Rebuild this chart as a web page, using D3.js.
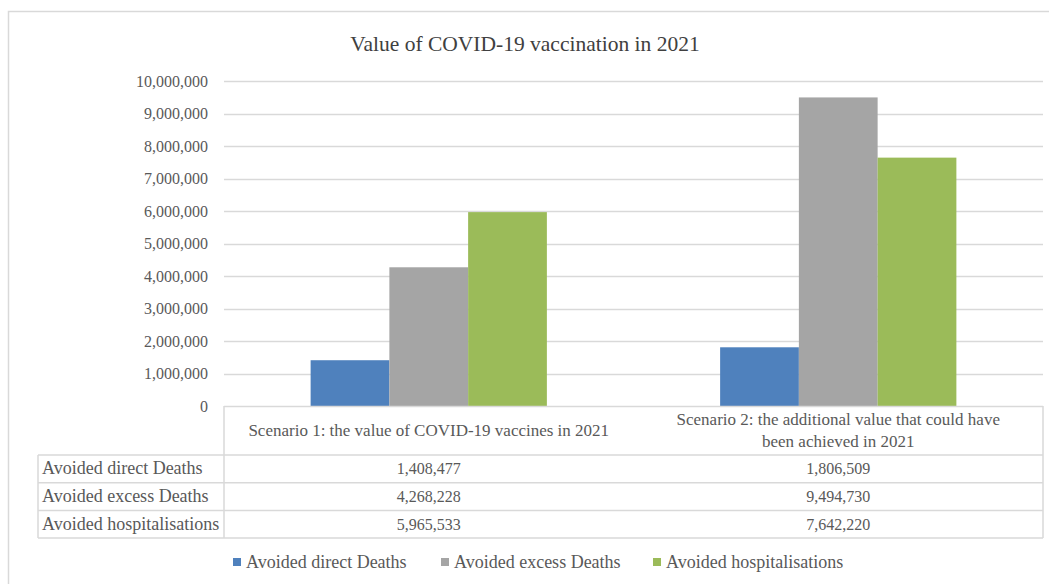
<!DOCTYPE html>
<html>
<head>
<meta charset="utf-8">
<script src="https://cdn.jsdelivr.net/npm/d3@7"></script>
<style>
  html, body { margin: 0; padding: 0; background: #fff; }
  svg { display: block; font-family: "Liberation Serif", "Times New Roman", serif; }
</style>
</head>
<body>
<svg id="chart" width="1049" height="584"></svg>
<script>
// Chart data
const scenarios = [
  "Scenario 1: the value of COVID-19 vaccines in 2021",
  "Scenario 2: the additional value that could have been achieved in 2021"
];
const scenarioLines = [
  ["Scenario 1: the value of COVID-19 vaccines in 2021"],
  ["Scenario 2: the additional value that could have", "been achieved in 2021"]
];
const seriesNames = ["Avoided direct Deaths", "Avoided excess Deaths", "Avoided hospitalisations"];
const avoidedDirectDeaths = [1408477, 1806509];
const avoidedExcessDeaths = [4268228, 9494730];
const avoidedHospitalisations = [5965533, 7642220];
const yTicks = [0, 1000000, 2000000, 3000000, 4000000, 5000000, 6000000, 7000000, 8000000, 9000000, 10000000];
const chartTitle = "Value of COVID-19 vaccination in 2021";

const seriesValues = [avoidedDirectDeaths, avoidedExcessDeaths, avoidedHospitalisations];
const colors = ["#4f81bd", "#a5a5a5", "#9bbb59"];

const svg = d3.select("#chart");
const textColor = "#595959";
const gridColor = "#d9d9d9";
const fmt = d3.format(",");

// Outer chart frame
svg.append("rect")
  .attr("x", 8.5).attr("y", 11.5)
  .attr("width", 1100).attr("height", 700)
  .attr("fill", "#fff").attr("stroke", "#d9d9d9").attr("stroke-width", 1.5);

// Title
svg.append("text")
  .attr("x", 525).attr("y", 51)
  .attr("text-anchor", "middle")
  .attr("font-size", 21.5)
  .attr("fill", "#404040")
  .text(chartTitle);

// Plot area bounds
const plotLeft = 224, plotRight = 1043, plotTop = 81, plotBottom = 406;

const x0 = d3.scaleBand().domain(scenarios).range([plotLeft, plotRight]).padding(0);
const x1 = d3.scaleBand().domain(seriesNames).range([0, x0.bandwidth()])
  .paddingInner(0).paddingOuter(1.1);
const y = d3.scaleLinear().domain([0, 10000000]).range([plotBottom, plotTop]);

// Gridlines
svg.append("g")
  .selectAll("line")
  .data(yTicks.filter(d => d > 0))
  .join("line")
  .attr("x1", plotLeft).attr("x2", plotRight)
  .attr("y1", d => Math.round(y(d)) + 0.5)
  .attr("y2", d => Math.round(y(d)) + 0.5)
  .attr("stroke", gridColor).attr("stroke-width", 1.5);

// Y axis labels
const yAxis = d3.axisLeft(y).tickValues(yTicks).tickFormat(fmt).tickSize(0).tickPadding(16);
const yg = svg.append("g").attr("transform", `translate(${plotLeft},0)`).call(yAxis);
yg.select(".domain").remove();
yg.selectAll("text")
  .attr("fill", textColor)
  .attr("font-size", 16)
  .attr("font-family", "Liberation Serif, serif");

// Bars
const groups = svg.append("g")
  .selectAll("g")
  .data(scenarios)
  .join("g")
  .attr("transform", d => `translate(${x0(d)},0)`);

groups.selectAll("rect")
  .data((d, i) => seriesNames.map((s, k) => ({ series: s, value: seriesValues[k][i], k })))
  .join("rect")
  .attr("x", d => x1(d.series))
  .attr("width", x1.bandwidth())
  .attr("y", d => y(d.value))
  .attr("height", d => plotBottom - y(d.value))
  .attr("fill", d => colors[d.k]);

// Data table
const tableLeft = 38;
const headerBottom = 455;
const rowH = 27.7;
const tbl = svg.append("g").attr("stroke", gridColor).attr("stroke-width", 1.5).attr("fill", "none");

// header cell border
tbl.append("line").attr("x1", plotLeft).attr("x2", plotRight).attr("y1", plotBottom + 0.5).attr("y2", plotBottom + 0.5);
tbl.append("line").attr("x1", plotLeft).attr("x2", plotLeft).attr("y1", plotBottom).attr("y2", headerBottom + 3 * rowH);
tbl.append("line").attr("x1", plotRight).attr("x2", plotRight).attr("y1", plotBottom).attr("y2", headerBottom + 3 * rowH);
// row lines
for (let r = 0; r <= 3; r++) {
  const yy = headerBottom + r * rowH;
  tbl.append("line").attr("x1", tableLeft).attr("x2", plotRight).attr("y1", yy).attr("y2", yy);
}
tbl.append("line").attr("x1", tableLeft).attr("x2", tableLeft).attr("y1", headerBottom).attr("y2", headerBottom + 3 * rowH);

// header text
scenarios.forEach((s, i) => {
  const lines = scenarioLines[i];
  const cx = x0(s) + x0.bandwidth() / 2;
  const midY = (plotBottom + headerBottom) / 2;
  const lh = 22;
  lines.forEach((ln, j) => {
    svg.append("text")
      .attr("x", cx)
      .attr("y", midY + (j - (lines.length - 1) / 2) * lh + 5.5)
      .attr("text-anchor", "middle")
      .attr("font-size", 17)
      .attr("fill", textColor)
      .text(ln);
  });
});

// row labels and values
seriesNames.forEach((name, r) => {
  const cy = headerBottom + r * rowH + rowH / 2 + 5.5;
  svg.append("text")
    .attr("x", tableLeft + 4).attr("y", cy)
    .attr("font-size", 18).attr("fill", textColor)
    .text(name);
  scenarios.forEach((s, i) => {
    svg.append("text")
      .attr("x", x0(s) + x0.bandwidth() / 2).attr("y", cy)
      .attr("text-anchor", "middle")
      .attr("font-size", 16).attr("fill", textColor)
      .text(fmt(seriesValues[r][i]));
  });
});

// Legend
const legendX = [233, 441, 653];
const legend = svg.append("g");
seriesNames.forEach((name, k) => {
  legend.append("rect")
    .attr("x", legendX[k]).attr("y", 558)
    .attr("width", 8).attr("height", 8)
    .attr("fill", colors[k]);
  legend.append("text")
    .attr("x", legendX[k] + 13).attr("y", 568)
    .attr("font-size", 18).attr("fill", textColor)
    .text(name);
});
</script>
</body>
</html>
